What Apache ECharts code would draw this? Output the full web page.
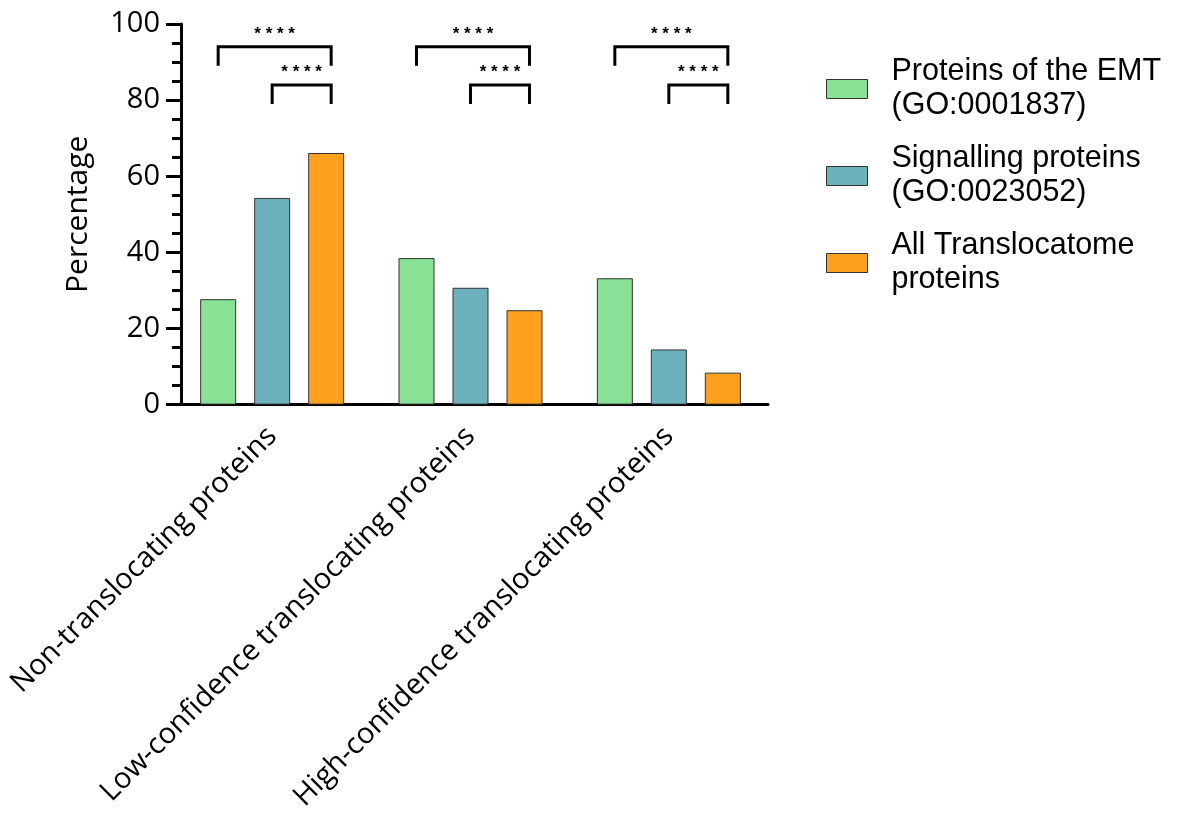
<!DOCTYPE html>
<html>
<head>
<meta charset="utf-8">
<script src="https://cdn.jsdelivr.net/npm/echarts@6/dist/echarts.min.js"></script>
<style>html,body{margin:0;padding:0;background:#fff}#c{width:1181px;height:814px}</style>
</head>
<body>
<div id="c"></div>
<script>
var categories = ['Non-translocating proteins', 'Low-confidence translocating proteins', 'High-confidence translocating proteins'];
var seriesNames = ['Proteins of the EMT\n(GO:0001837)', 'Signalling proteins\n(GO:0023052)', 'All Translocatome\nproteins'];
var emtValues = [27.7, 38.5, 33.2];
var signallingValues = [54.3, 30.7, 14.5];
var translocatomeValues = [66.1, 24.8, 8.4];
var yTicks = [0, 20, 40, 60, 80, 100];
// comparisons: [category index, from bar, to bar, bracket level, label]
var comparisons = [
  [0, 0, 2, 94, '****'], [0, 1, 2, 84, '****'],
  [1, 0, 2, 94, '****'], [1, 1, 2, 84, '****'],
  [2, 0, 2, 94, '****'], [2, 1, 2, 84, '****']
];

var colors = ['#88E194', '#6DB1BD', '#FFA11F'];
var axisFont = '"Open Sans", "Noto Sans", sans-serif';
var chart = echarts.init(document.getElementById('c'));

function barSeries(name, data, color) {
  return {
    name: name, type: 'bar', data: data, barWidth: 36, barGap: '50%',
    itemStyle: { color: color, borderColor: '#333', borderWidth: 1 },
    emphasis: { disabled: true }
  };
}

var option = {
  animation: false,
  grid: { left: 173, top: 24, width: 595, height: 383, containLabel: false },
  legend: {
    orient: 'vertical', left: 826, top: 55, padding: 0, itemWidth: 41, itemHeight: 19, itemGap: 19,
    icon: 'rect', selectedMode: false,
    itemStyle: { borderColor: '#333', borderWidth: 1 },
    textStyle: { fontFamily: '"Liberation Sans", Arial, sans-serif', fontSize: 30.5, lineHeight: 34, color: '#000', padding: [0, 0, 0, 19] },
    data: seriesNames
  },
  xAxis: {
    type: 'category', data: categories,
    axisLine: { lineStyle: { color: '#000', width: 3 } },
    axisTick: { alignWithLabel: true, length: 16, lineStyle: { color: '#000', width: 3 } },
    axisLabel: { rotate: 45, interval: 0, margin: 27, fontFamily: axisFont, fontSize: 29, color: '#000' }
  },
  yAxis: {
    type: 'value', min: 0, max: 100, interval: 20, offset: -8,
    name: 'Percentage', nameLocation: 'middle', nameGap: 88,
    nameTextStyle: { fontFamily: axisFont, fontSize: 30, color: '#000' },
    axisLine: { show: true, lineStyle: { color: '#000', width: 3 } },
    axisTick: { show: true, length: 15, lineStyle: { color: '#000', width: 3 } },
    minorTick: { show: true, splitNumber: 4, length: 9, lineStyle: { color: '#000', width: 3 } },
    splitLine: { show: false },
    axisLabel: { margin: 21, fontFamily: axisFont, fontSize: 29, color: '#000',
      formatter: function (v) { return yTicks.indexOf(v) >= 0 ? String(v) : ''; } }
  },
  series: [
    barSeries(seriesNames[0], emtValues, colors[0]),
    barSeries(seriesNames[1], signallingValues, colors[1]),
    barSeries(seriesNames[2], translocatomeValues, colors[2]),
    {
      type: 'custom', name: 'sig', silent: true, z: 5,
      data: comparisons.map(function (c) { return [c[0], c[1], c[2], c[3]]; }),
      renderItem: function (params, api) {
        var cmp = comparisons[params.dataIndex];
        var cat = api.value(0), from = api.value(1), to = api.value(2), lvl = api.value(3);
        var top = api.coord([cat, lvl]);
        var legY = api.coord([cat, lvl - 5])[1];
        var step = 54;
        var x1 = top[0] + (from - 1) * step;
        var x2 = top[0] + (to - 1) * step + 5;
        return {
          type: 'group',
          children: [
            { type: 'polyline', shape: { points: [[x1, legY], [x1, top[1]], [x2, top[1]], [x2, legY]] },
              style: { stroke: '#000', lineWidth: 3, fill: null, lineJoin: 'miter' } },
            { type: 'text', x: (x1 + x2) / 2, y: top[1] - 13,
              style: { text: cmp[4].split('').join(' '), fontSize: 17, fontWeight: 'bold', fontFamily: '"Liberation Sans", Arial, sans-serif',
                fill: '#000', align: 'center', verticalAlign: 'middle' } }
          ]
        };
      }
    }
  ]
};
chart.setOption(option);
</script>
</body>
</html>
